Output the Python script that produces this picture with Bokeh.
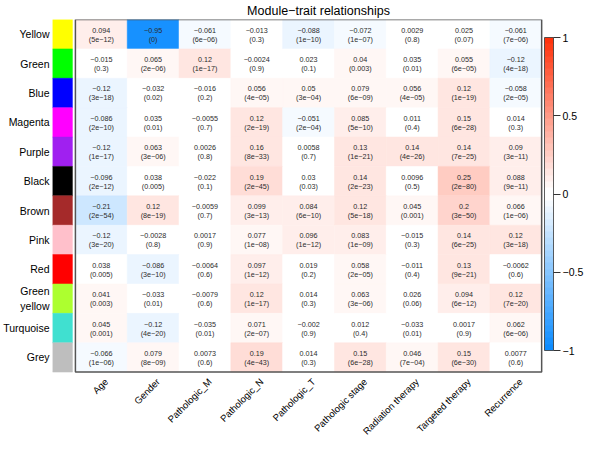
import math
from bokeh.plotting import figure
from bokeh.models import ColumnDataSource, LinearColorMapper, ColorBar, FixedTicker, Range1d
from bokeh.core.properties import value
from bokeh.embed import file_html
from bokeh.resources import INLINE

# ---------------- data ----------------
modules = ["Yellow", "Green", "Blue", "Magenta", "Purple", "Black", "Brown",
           "Pink", "Red", "Green\nyellow", "Turquoise", "Grey"]
module_colors = ["#FFFF00", "#00FF00", "#0000FF", "#FF00FF", "#A020F0", "#000000",
                 "#A52A2A", "#FFC0CB", "#FF0000", "#ADFF2F", "#40E0D0", "#BEBEBE"]
traits = ["Age", "Gender", "Pathologic_M", "Pathologic_N", "Pathologic_T",
          "Pathologic stage", "Radiation therapy", "Targeted therapy", "Recurrence"]

r_yellow = [0.094, -0.95, -0.061, -0.013, -0.088, -0.072, 0.0029, 0.025, -0.061]
p_yellow = ["5e-12", "0", "6e-06", "0.3", "1e-10", "1e-07", "0.8", "0.07", "7e-06"]
r_green = [-0.015, 0.065, 0.12, -0.0024, 0.023, 0.04, 0.035, 0.055, -0.12]
p_green = ["0.3", "2e-06", "1e-17", "0.9", "0.1", "0.003", "0.01", "6e-05", "4e-18"]
r_blue = [-0.12, -0.032, -0.016, 0.056, 0.05, 0.079, 0.056, 0.12, -0.058]
p_blue = ["3e-18", "0.02", "0.2", "4e-05", "3e-04", "6e-09", "4e-05", "1e-19", "2e-05"]
r_magenta = [-0.086, 0.035, -0.0055, 0.12, -0.051, 0.085, 0.011, 0.15, 0.014]
p_magenta = ["2e-10", "0.01", "0.7", "2e-19", "2e-04", "5e-10", "0.4", "6e-28", "0.3"]
r_purple = [-0.12, 0.063, 0.0026, 0.16, 0.0058, 0.13, 0.14, 0.14, 0.09]
p_purple = ["1e-17", "3e-06", "0.8", "8e-33", "0.7", "1e-21", "4e-26", "7e-25", "3e-11"]
r_black = [-0.096, 0.038, -0.022, 0.19, 0.03, 0.14, 0.0096, 0.25, 0.088]
p_black = ["2e-12", "0.005", "0.1", "2e-45", "0.03", "2e-23", "0.5", "2e-80", "9e-11"]
r_brown = [-0.21, 0.12, -0.0059, 0.099, 0.084, 0.12, 0.045, 0.2, 0.066]
p_brown = ["2e-54", "8e-19", "0.7", "3e-13", "6e-10", "5e-18", "0.001", "3e-50", "1e-06"]
r_pink = [-0.12, -0.0028, 0.0017, 0.077, 0.096, 0.083, -0.015, 0.14, 0.12]
p_pink = ["3e-20", "0.8", "0.9", "1e-08", "1e-12", "1e-09", "0.3", "6e-25", "3e-18"]
r_red = [0.038, -0.086, -0.0064, 0.097, 0.019, 0.058, -0.011, 0.13, -0.0062]
p_red = ["0.005", "3e-10", "0.6", "1e-12", "0.2", "2e-05", "0.4", "9e-21", "0.6"]
r_greenyellow = [0.041, -0.033, -0.0079, 0.12, 0.014, 0.063, 0.026, 0.094, 0.12]
p_greenyellow = ["0.003", "0.01", "0.6", "1e-17", "0.3", "3e-06", "0.06", "6e-12", "7e-20"]
r_turquoise = [0.045, -0.12, -0.035, 0.071, -0.002, 0.012, -0.033, 0.0017, 0.062]
p_turquoise = ["0.001", "4e-20", "0.01", "2e-07", "0.9", "0.4", "0.01", "0.9", "6e-06"]
r_grey = [-0.066, 0.079, 0.0073, 0.19, 0.014, 0.15, 0.046, 0.15, 0.0077]
p_grey = ["1e-06", "8e-09", "0.6", "4e-43", "0.3", "6e-28", "7e-04", "6e-30", "0.6"]

cor_rows = [r_yellow, r_green, r_blue, r_magenta, r_purple, r_black, r_brown,
            r_pink, r_red, r_greenyellow, r_turquoise, r_grey]
p_rows = [p_yellow, p_green, p_blue, p_magenta, p_purple, p_black, p_brown,
          p_pink, p_red, p_greenyellow, p_turquoise, p_grey]

cbar_ticks = [-1.0, -0.5, 0.0, 0.5, 1.0]
cbar_labels = ["\u22121", "\u22120.5", "0", "0.5", "1"]
title_text = "Module\u2212trait relationships"

# ---------------- palette (blue-white-red, 50 steps) ----------------
def blue_white_red(n=50, blue_end=(0.05, 0.55, 1.0), red_end=(1.0, 0.2, 0.05)):
    half = n // 2
    fr = [i / (half - 1) for i in range(half)]
    cols = []
    for f in fr:
        c = [b + (1 - b) * f for b in blue_end]
        cols.append("#%02x%02x%02x" % tuple(int(round(255 * v)) for v in c))
    for f in reversed(fr):
        c = [r + (1 - r) * f for r in red_end]
        cols.append("#%02x%02x%02x" % tuple(int(round(255 * v)) for v in c))
    return cols

palette = blue_white_red()
mapper = LinearColorMapper(palette=palette, low=-1, high=1)

# ---------------- layout constants (pixels) ----------------
W, H = 584, 436
FRAME_LEFT = 50        # frame left edge in canvas px
FRAME_TOP = 15
SWATCH_W = 20
GAP = 3
HEAT_W = 468
HEAT_H = 356
LABEL_DX = 5           # x-label anchor offset right of column centre
LABEL_DY = 8           # x-label anchor offset below heatmap
CBAR_BOTTOM = 86       # colour bar bottom above canvas bottom
nrow, ncol = len(modules), len(traits)
col_px = HEAT_W / ncol
row_px = HEAT_H / nrow
heat_left = FRAME_LEFT + SWATCH_W + GAP
heat_right = heat_left + HEAT_W
x0 = -0.5 - (SWATCH_W + GAP) / col_px
x1 = ncol - 0.5 + (W - heat_right) / col_px
y1 = nrow - 0.5
y0 = y1 - (H - FRAME_TOP) / row_px

# ---------------- sources ----------------
xs, ys, rs, rtxt, ptxt = [], [], [], [], []
for i, (rrow, prow) in enumerate(zip(cor_rows, p_rows)):
    y = nrow - 1 - i
    for j, (r, pv) in enumerate(zip(rrow, prow)):
        xs.append(j)
        ys.append(y)
        rs.append(r)
        rtxt.append(str(r).replace("-", "\u2212"))
        ptxt.append("(" + pv.replace("-", "\u2212") + ")")
src = ColumnDataSource(dict(x=xs, y=ys, r=rs, rt=rtxt, pt=ptxt))

row_y = [nrow - 1 - i for i in range(nrow)]
sw_src = ColumnDataSource(dict(
    top=[y + 0.5 for y in row_y], bottom=[y - 0.5 for y in row_y], color=module_colors))

lab_src = ColumnDataSource(dict(
    x=[j + LABEL_DX / col_px for j in range(ncol)],
    y=[-0.5 - LABEL_DY / row_px] * ncol,
    text=traits))

FONT = "Liberation Sans"

p = figure(width=W, height=H, output_backend="svg", toolbar_location=None,
           x_range=Range1d(x0, x1), y_range=Range1d(y0, y1),
           min_border_left=FRAME_LEFT, min_border_right=0,
           min_border_top=FRAME_TOP, min_border_bottom=0,
           title=title_text)
p.outline_line_color = None
p.xgrid.visible = False
p.ygrid.visible = False
p.xaxis.visible = False
p.background_fill_color = "white"
p.border_fill_color = "white"

p.title.text_font = FONT
p.title.text_font_size = "12.5px"
p.title.text_font_style = "normal"
p.title.text_color = "black"
p.title.align = "center"
p.title.standoff = 3
p.title.offset = -4

# heatmap cells
cmap = {"field": "r", "transform": mapper}
p.rect("x", "y", width=1, height=1, source=src, fill_color=cmap,
       line_color=cmap, line_width=0.5)
p.text("x", "y", text="rt", source=src, text_align="center", text_baseline="middle",
       text_font_size="7.2px", text_color="#2b2b2b", y_offset=-4, text_font=value(FONT))
p.text("x", "y", text="pt", source=src, text_align="center", text_baseline="middle",
       text_font_size="7.2px", text_color="#2b2b2b", y_offset=5, text_font=value(FONT))
# border around heatmap
p.rect(x=[(ncol - 1) / 2], y=[(nrow - 1) / 2], width=ncol, height=nrow,
       fill_color=None, line_color="#555555", line_width=1.5)

# module colour swatches
p.quad(left=x0, right=-0.5 - GAP / col_px, top="top", bottom="bottom", source=sw_src,
       fill_color="color", line_color="color", line_width=0.5)

# trait labels (rotated, under each column)
p.text("x", "y", text="text", source=lab_src, angle=math.pi / 4,
       text_align="right", text_baseline="middle", text_font=value(FONT),
       text_font_size="9.5px", text_color="black")

# module labels on the left axis
p.yaxis.ticker = FixedTicker(ticks=row_y)
p.yaxis.major_label_overrides = {y: m for y, m in zip(row_y, modules)}
p.yaxis.axis_line_color = None
p.yaxis.major_tick_out = 0
p.yaxis.major_tick_in = 0
p.yaxis.minor_tick_line_color = None
p.yaxis.major_label_standoff = 3
p.yaxis.major_label_text_font = FONT
p.yaxis.major_label_text_font_size = "10.5px"
p.yaxis.major_label_text_color = "black"

# colour bar
cb = ColorBar(color_mapper=mapper,
              ticker=FixedTicker(ticks=cbar_ticks),
              major_label_overrides={t: l for t, l in zip(cbar_ticks, cbar_labels)},
              width=9, height=313, padding=0,
              location=(heat_right + 1 - FRAME_LEFT, CBAR_BOTTOM),
              bar_line_color="#333333", bar_line_width=0.8,
              major_tick_out=7, major_tick_in=0, major_tick_line_color="#333333",
              minor_tick_line_color=None,
              label_standoff=2,
              major_label_text_font=FONT, major_label_text_font_size="10.5px",
              major_label_text_color="black",
              background_fill_color=None, border_line_color=None)
p.add_layout(cb)

open("out.html", "w").write(file_html(p, INLINE))
